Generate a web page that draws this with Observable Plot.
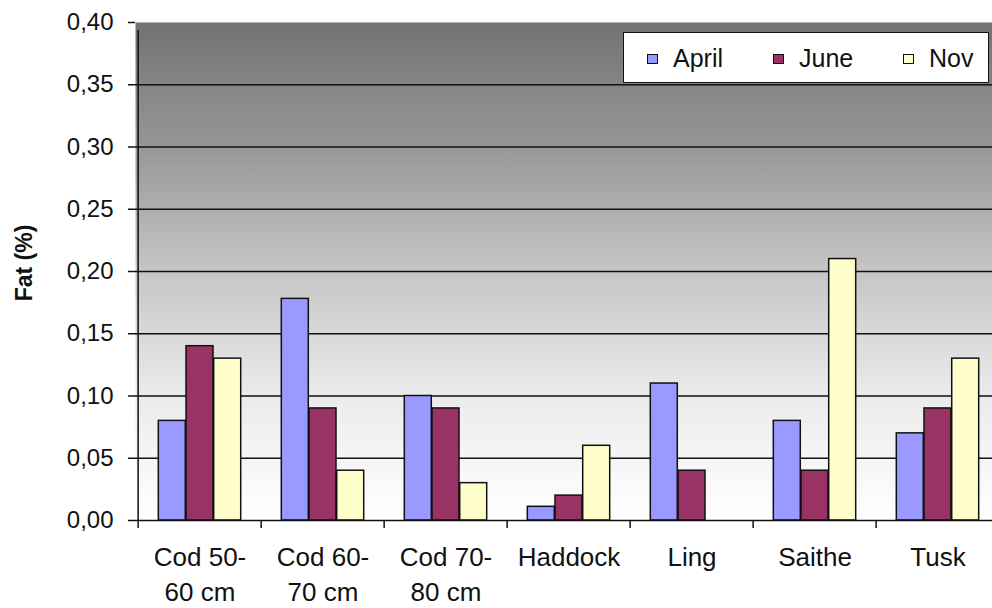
<!DOCTYPE html>
<html>
<head>
<meta charset="utf-8">
<script src="https://cdn.jsdelivr.net/npm/d3@7"></script>
<script src="https://cdn.jsdelivr.net/npm/@observablehq/plot@0.6"></script>
<style>
  html, body { margin: 0; padding: 0; background: #fff; overflow: hidden; }
  #wrap { position: relative; width: 1001px; height: 608px; }
  #chart { position: absolute; left: 0; top: 0; width: 1001px; }
  #ytitle {
    position: absolute; left: 24px; top: 263px;
    transform: translate(-50%, -50%) rotate(-90deg);
    font: bold 23px "Liberation Sans", Arial, sans-serif; color: #111; white-space: nowrap;
  }
  #legend {
    position: absolute; left: 623px; top: 32px; width: 366px; height: 51px;
    background: #fff; border: 1.5px solid #111; box-sizing: border-box;
    font: 25px "Liberation Sans", Arial, sans-serif; color: #111;
  }
  .item { position: absolute; top: 0; height: 51px; display: flex; align-items: center; }
  .sw { width: 9px; height: 8px; border: 1px solid #111; margin-right: 15px; }
</style>
</head>
<body>
<svg width="0" height="0" style="position:absolute">
  <defs>
    <linearGradient id="bg" x1="0" y1="0" x2="0" y2="1">
      <stop offset="0" stop-color="#727272"/>
      <stop offset="0.25" stop-color="#979797"/>
      <stop offset="0.5" stop-color="#c6c6c6"/>
      <stop offset="0.75" stop-color="#ebebeb"/>
      <stop offset="1" stop-color="#ffffff"/>
    </linearGradient>
  </defs>
</svg>
<div id="wrap">
  <div id="chart"></div>
  <div id="ytitle">Fat (%)</div>
  <div id="legend"></div>
</div>
<script>
const categories = ["Cod 50-\n60 cm", "Cod 60-\n70 cm", "Cod 70-\n80 cm", "Haddock", "Ling", "Saithe", "Tusk"];
const april = [0.08, 0.178, 0.10, 0.011, 0.11, 0.08, 0.07];
const june  = [0.14, 0.09, 0.09, 0.02, 0.04, 0.04, 0.09];
const nov   = [0.13, 0.04, 0.03, 0.06, null, 0.21, 0.13];
const seriesNames = ["April", "June", "Nov"];
const seriesColors = ["#9999ff", "#993366", "#ffffcc"];
const yTicks = [0, 0.05, 0.10, 0.15, 0.20, 0.25, 0.30, 0.35, 0.40];
const yGrid = [0.05, 0.10, 0.15, 0.20, 0.25, 0.30, 0.35];

const W = 1001, H = 608, ML = 135, MR = 0, MT = 22, MB = 88;
const step = (W - ML - MR) / categories.length;
const barW = 27.7;
const inset = (step - barW) / 2;

const seriesValues = [april, june, nov];
const rows = seriesValues.map(vals => categories.map((c, i) => ({cat: c, v: vals[i]})).filter(d => d.v != null));

const fmt = d => d.toFixed(2).replace(".", ",");

const bars = rows.map((data, k) => Plot.barY(data, {
  x: "cat", y: "v",
  dx: (k - 1) * barW,
  insetLeft: inset, insetRight: inset,
  fill: seriesColors[k], stroke: "#111", strokeWidth: 1.5
}));

const chart = Plot.plot({
  width: W, height: H,
  marginLeft: ML, marginRight: MR, marginTop: MT, marginBottom: MB,
  style: {fontFamily: "'Liberation Sans', Arial, sans-serif", color: "#111", background: "transparent"},
  x: {domain: categories, padding: 0, axis: null},
  y: {domain: [0, 0.40], axis: null},
  marks: [
    Plot.frame({fill: "url(#bg)", stroke: "none"}),
    Plot.ruleY(yGrid, {stroke: "#111", strokeWidth: 1.5}),
    ...bars,
    Plot.ruleY([0], {stroke: "#111", strokeWidth: 1.5}),
    Plot.ruleX(categories, {x: d => d, dx: -step / 2, y1: d => 0, y2: d => 0, insetBottom: -8, stroke: "#111", strokeWidth: 1.5}),
    Plot.ruleX(categories.slice(0, 1), {x: d => d, dx: -step / 2, y1: d => 0, y2: d => 0.40, insetBottom: -8, stroke: "#111", strokeWidth: 1.5}),
    Plot.axisY({ticks: yTicks, tickFormat: fmt, tickSize: 7, tickPadding: 15, fontSize: 24, label: null, strokeWidth: 1.5, stroke: "#111"}),
    Plot.axisX({tickSize: 0, tickPadding: 20, fontSize: 26, lineHeight: 1.37, label: null})
  ]
});
document.getElementById("chart").appendChild(chart);

const legend = document.getElementById("legend");
const swX = [23, 149, 279];
seriesNames.forEach((name, k) => {
  const it = document.createElement("div");
  it.className = "item";
  it.style.left = swX[k] + "px";
  const sw = document.createElement("div");
  sw.className = "sw";
  sw.style.background = seriesColors[k];
  const t = document.createElement("span");
  t.textContent = name;
  it.appendChild(sw); it.appendChild(t);
  legend.appendChild(it);
});
</script>
</body>
</html>
